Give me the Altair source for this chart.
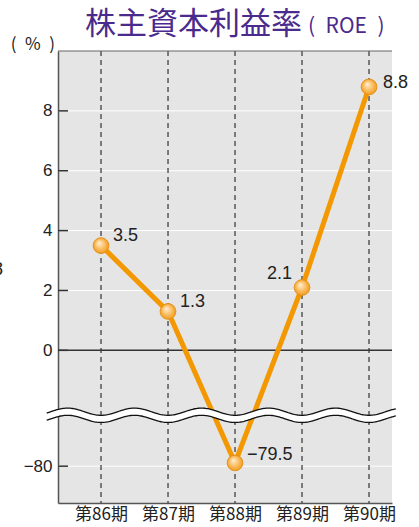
import json
import numpy as np
import pandas as pd
import altair as alt

# ---- data ----
categories = ["第86期", "第87期", "第88期", "第89期", "第90期"]
roe = [3.5, 1.3, -79.5, 2.1, 8.8]
roe_labels = ["3.5", "1.3", "−79.5", "2.1", "8.8"]
y_ticks = [0, 2, 4, 6, 8]
y_break_tick = -80
y_break_label = "−80"

# ---- layout constants ----
W, H = 334, 452
Y_MIN, Y_MAX = -5.1, 10.0
X_MIN, X_MAX = -0.642, 4.343
BREAK_POS = -3.87     # axis position where -80 is drawn
BREAK_SCALE = 0.22    # axis units per % below the break
WAVE_Y = -2.17
WAVE_AMP = 0.12
WAVE_GAP = 0.12

FONT = "Liberation Sans"
CJK = "Noto Sans CJK JP"
ORANGE = "#f39800"
PURPLE = "#4a2a8c"


def axis_pos(v):
    return v if v > -10 else BREAK_POS + (v - y_break_tick) * BREAK_SCALE


df = pd.DataFrame({
    "idx": list(range(len(categories))),
    "cat": categories,
    "roe": roe,
    "pos": [axis_pos(v) for v in roe],
    "label": roe_labels,
})

tick_pos = [axis_pos(y_break_tick)] + y_ticks
grid_df = pd.DataFrame({"v": [axis_pos(y_break_tick)] + y_ticks[1:]})
tick_df = pd.DataFrame({"v": tick_pos})
zero_df = pd.DataFrame({"v": [0]})

# decorative break wave
wx = np.linspace(-0.81, 4.40, 300)
wy = WAVE_Y - WAVE_AMP * np.cos(2 * np.pi * wx)
wave_df = pd.DataFrame({"x": wx, "mid": wy, "up": wy + WAVE_GAP, "lo": wy - WAVE_GAP})

xs = alt.Scale(domain=[X_MIN, X_MAX], nice=False, zero=False)
ys = alt.Scale(domain=[Y_MIN, Y_MAX], nice=False, zero=False)

x_label_expr = json.dumps(categories, ensure_ascii=False) + "[datum.value]"
y_label_expr = f"datum.value < -1 ? '{y_break_label}' : datum.value"

X_AXIS = alt.Axis(
    values=list(range(len(categories))), labelExpr=x_label_expr, ticks=False,
    tickSize=0, grid=False, title=None, labelFont=CJK, labelFontSize=17,
    labelColor="#222", labelPadding=3, domainColor="#555", domainWidth=1.5)
Y_AXIS = alt.Axis(
    values=tick_pos, labelExpr=y_label_expr, ticks=False, tickSize=0,
    grid=False, title=None, labelFont=FONT, labelFontSize=17, labelColor="#222",
    labelPadding=6, domainColor="#555", domainWidth=1.5)


def X(field):
    return alt.X(field, scale=xs, axis=X_AXIS)


def Y(field):
    return alt.Y(field, scale=ys, axis=Y_AXIS)


base = alt.Chart(df)

grid = alt.Chart(grid_df).mark_rule(color="white", strokeWidth=1).encode(
    y=Y("v:Q"), x=alt.value(0), x2=alt.value(W))

zero = alt.Chart(zero_df).mark_rule(color="#333", strokeWidth=1.5).encode(
    y=Y("v:Q"), x=alt.value(0), x2=alt.value(W))

dashed = base.mark_rule(color="#333", strokeWidth=1.2, strokeDash=[5, 4]).encode(
    x=X("idx:Q"), y=alt.value(0), y2=alt.value(H))

line = base.mark_line(color=ORANGE, strokeWidth=5).encode(x=X("idx:Q"), y=Y("pos:Q"))

wave_band = alt.Chart(wave_df).mark_line(color="white", strokeWidth=7, clip=False).encode(
    x=X("x:Q"), y=Y("mid:Q"))
wave_up = alt.Chart(wave_df).mark_line(color="#111", strokeWidth=1.3, clip=False).encode(
    x=X("x:Q"), y=Y("up:Q"))
wave_lo = alt.Chart(wave_df).mark_line(color="#111", strokeWidth=1.3, clip=False).encode(
    x=X("x:Q"), y=Y("lo:Q"))

gradient = alt.RadialGradient(
    gradient="radial",
    stops=[alt.GradientStop(color="#fff0d6", offset=0),
           alt.GradientStop(color="#fbc26e", offset=0.5),
           alt.GradientStop(color="#f0960f", offset=1)],
    x1=0.38, y1=0.32, r1=0, x2=0.5, y2=0.5, r2=0.55)

points = base.mark_point(shape="circle", filled=True, fill=gradient, size=250,
                         stroke="#e08a10", strokeWidth=0.8, opacity=1).encode(
    x=X("idx:Q"), y=Y("pos:Q"))

offsets = [(12, -10, "left"), (12, -9, "left"), (12, -8, "left"),
           (-10, -13, "right"), (14, -4, "left")]
labels = []
for i, (dx, dy, al) in enumerate(offsets):
    labels.append(base.transform_filter(alt.datum.idx == i).mark_text(
        dx=dx, dy=dy, align=al, baseline="middle", font=FONT, fontSize=18,
        color="#222").encode(x=X("idx:Q"), y=Y("pos:Q"), text="label:N"))

ticks = alt.Chart(tick_df).mark_rule(color="#333", strokeWidth=1.5).encode(
    y=Y("v:Q"), x=alt.value(0), x2=alt.value(10))

top_border = alt.Chart(zero_df).mark_rule(color="#666", strokeWidth=1.2).encode(
    y=alt.value(0), x=alt.value(0), x2=alt.value(W))


def txt(s, x, y, size, color, font, align="left"):
    return alt.Chart(pd.DataFrame({"t": [s]})).mark_text(
        align=align, baseline="alphabetic", fontSize=size, color=color, font=font,
        clip=False).encode(text="t:N", x=alt.value(x), y=alt.value(y))


title_main = txt("株主資本利益率", 27, -17, 31, PURPLE, CJK)
title_sub = txt("(\u2002ROE\u2002)", 250, -18, 21, PURPLE, CJK)
unit = txt("(\u2002%\u2002)", -3, -1, 17, "#222", CJK, align="right")
stray = txt("8", -55, 224, 18, "#222", FONT, align="right")

chart = alt.layer(
    grid, zero, dashed, line, wave_band, wave_up, wave_lo, points, *labels,
    ticks, top_border, title_main, title_sub, unit, stray,
).properties(
    width=W, height=H,
    autosize=alt.AutoSizeParams(type="none"),
    padding={"left": 58, "top": 51, "right": 27, "bottom": 24},
    background="white",
).configure_view(strokeWidth=0, fill="#e5e5e5")

chart.save("out.html", embed_options={"renderer": "svg", "actions": False})
